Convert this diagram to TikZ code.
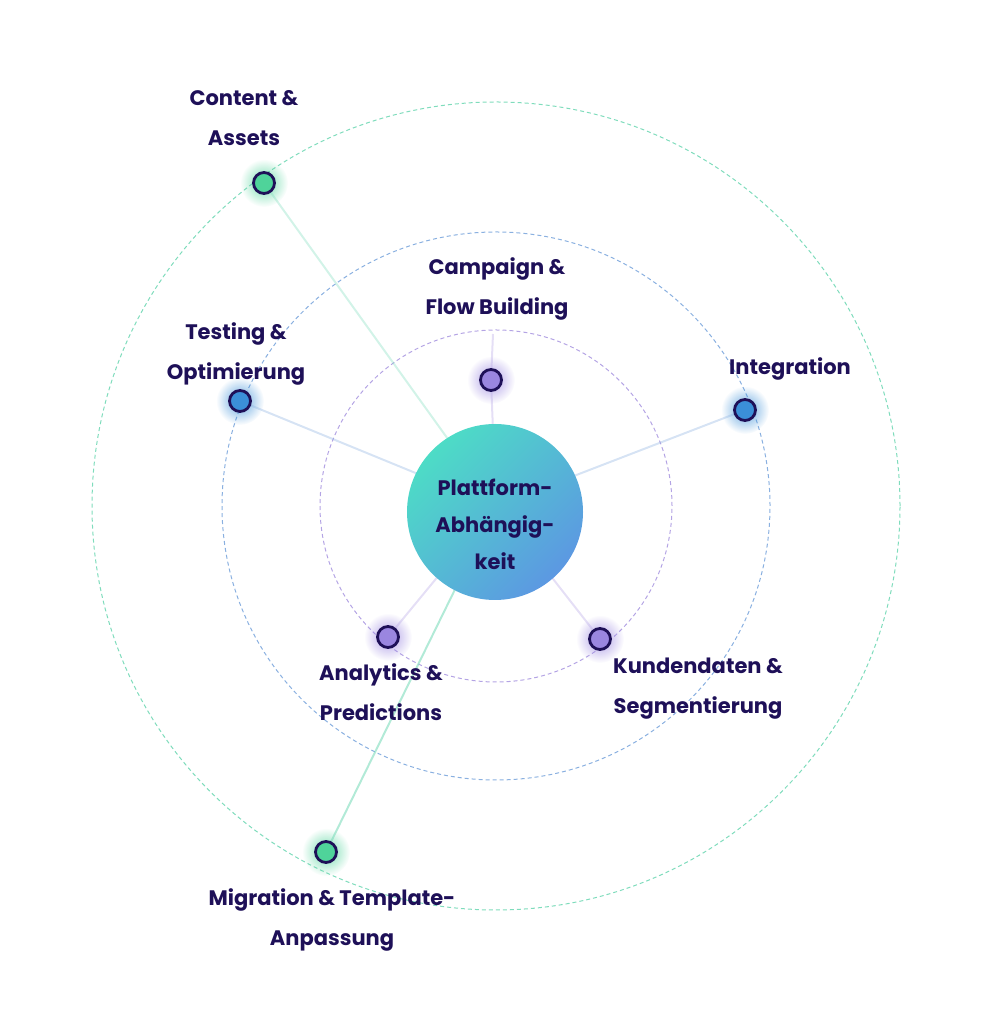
\documentclass[tikz,border=0pt]{standalone}
\usepackage{fontspec}
\setmainfont{Poppins}
\usetikzlibrary{fadings}
\definecolor{navy}{HTML}{1E1058}
\definecolor{cgreen}{HTML}{4FD39A}
\definecolor{cblue}{HTML}{3B8FD8}
\definecolor{cpurple}{HTML}{9A86E0}
\definecolor{rgreen}{HTML}{7FDCBC}
\definecolor{rblue}{HTML}{8AB0E0}
\definecolor{rpurple}{HTML}{B4A4E4}
\definecolor{teal}{HTML}{4DDCC6}
\definecolor{cblue2}{HTML}{5C98E2}
\tikzfading[name=glow, inner color=transparent!20, outer color=transparent!100]
\begin{document}
\begin{tikzpicture}[x=1pt,y=1pt,
  ring/.style={dashed, line width=1pt, dash pattern=on 4pt off 3pt},
  spoke/.style={line width=2pt, opacity=0.35},
  dot/.style={circle, draw=navy, line width=2.8pt, minimum size=21pt, inner sep=0pt},
  lbl/.style={font=\bfseries\fontsize{21}{40}\selectfont, text=navy, align=center}]
\useasboundingbox (0,0) rectangle (1001,1024);
\coordinate (c) at (496,518);
\draw[ring, rgreen] (c) circle (404);
\draw[ring, rblue] (c) circle (274);
\draw[ring, rpurple] (c) circle (176);
% nodes positions
\coordinate (pA) at (264,841);
\coordinate (pB) at (491,644);
\coordinate (pC) at (240,623);
\coordinate (pD) at (745,614);
\coordinate (pE) at (388,387);
\coordinate (pF) at (600,385);
\coordinate (pG) at (326,172);
\coordinate (top) at (493,690);
% glows
\foreach \p/\col in {pA/cgreen,pB/cpurple,pC/cblue,pD/cblue,pE/cpurple,pF/cpurple,pG/cgreen}
  \fill[\col, path fading=glow] (\p) circle (24);
% spokes
\draw[spoke, rgreen] (c) -- (pA);
\draw[spoke, rpurple] (top) -- (pB) -- (c);
\draw[spoke, rblue] (c) -- (pC);
\draw[spoke, rblue] (c) -- (pD);
\draw[spoke, rpurple] (c) -- (pE);
\draw[spoke, rpurple] (c) -- (pF);
\draw[spoke, rgreen, opacity=0.6] (c) -- (pG);
% center
\shade[top color=teal, bottom color=cblue2, shading angle=45] (495,512) circle (88);
\node[lbl, font=\bfseries\fontsize{21}{37}\selectfont] (center) at (495,500) {Plattform-\\Abhängig-\\keit};
\node[dot, fill=cgreen] (A) at (pA) {};
\node[dot, fill=cpurple] (B) at (pB) {};
\node[dot, fill=cblue] (C) at (pC) {};
\node[dot, fill=cblue] (D) at (pD) {};
\node[dot, fill=cpurple] (E) at (pE) {};
\node[dot, fill=cpurple] (F) at (pF) {};
\node[dot, fill=cgreen] (G) at (pG) {};
% labels
\node[lbl] (lA) at (244,906) {Content \&\\Assets};
\node[lbl] (lB) at (497,735) {Campaign \&\\Flow Building};
\node[lbl] (lC) at (236,670) {Testing \&\\Optimierung};
\node[lbl] (lD) at (790,655) {Integration};
\node[lbl] (lE) at (381,332) {Analytics \&\\Predictions};
\node[lbl] (lF) at (698,335) {Kundendaten \&\\Segmentierung};
\node[lbl] (lG) at (332,104) {Migration \& Template-\\Anpassung};
\end{tikzpicture}
\end{document}
